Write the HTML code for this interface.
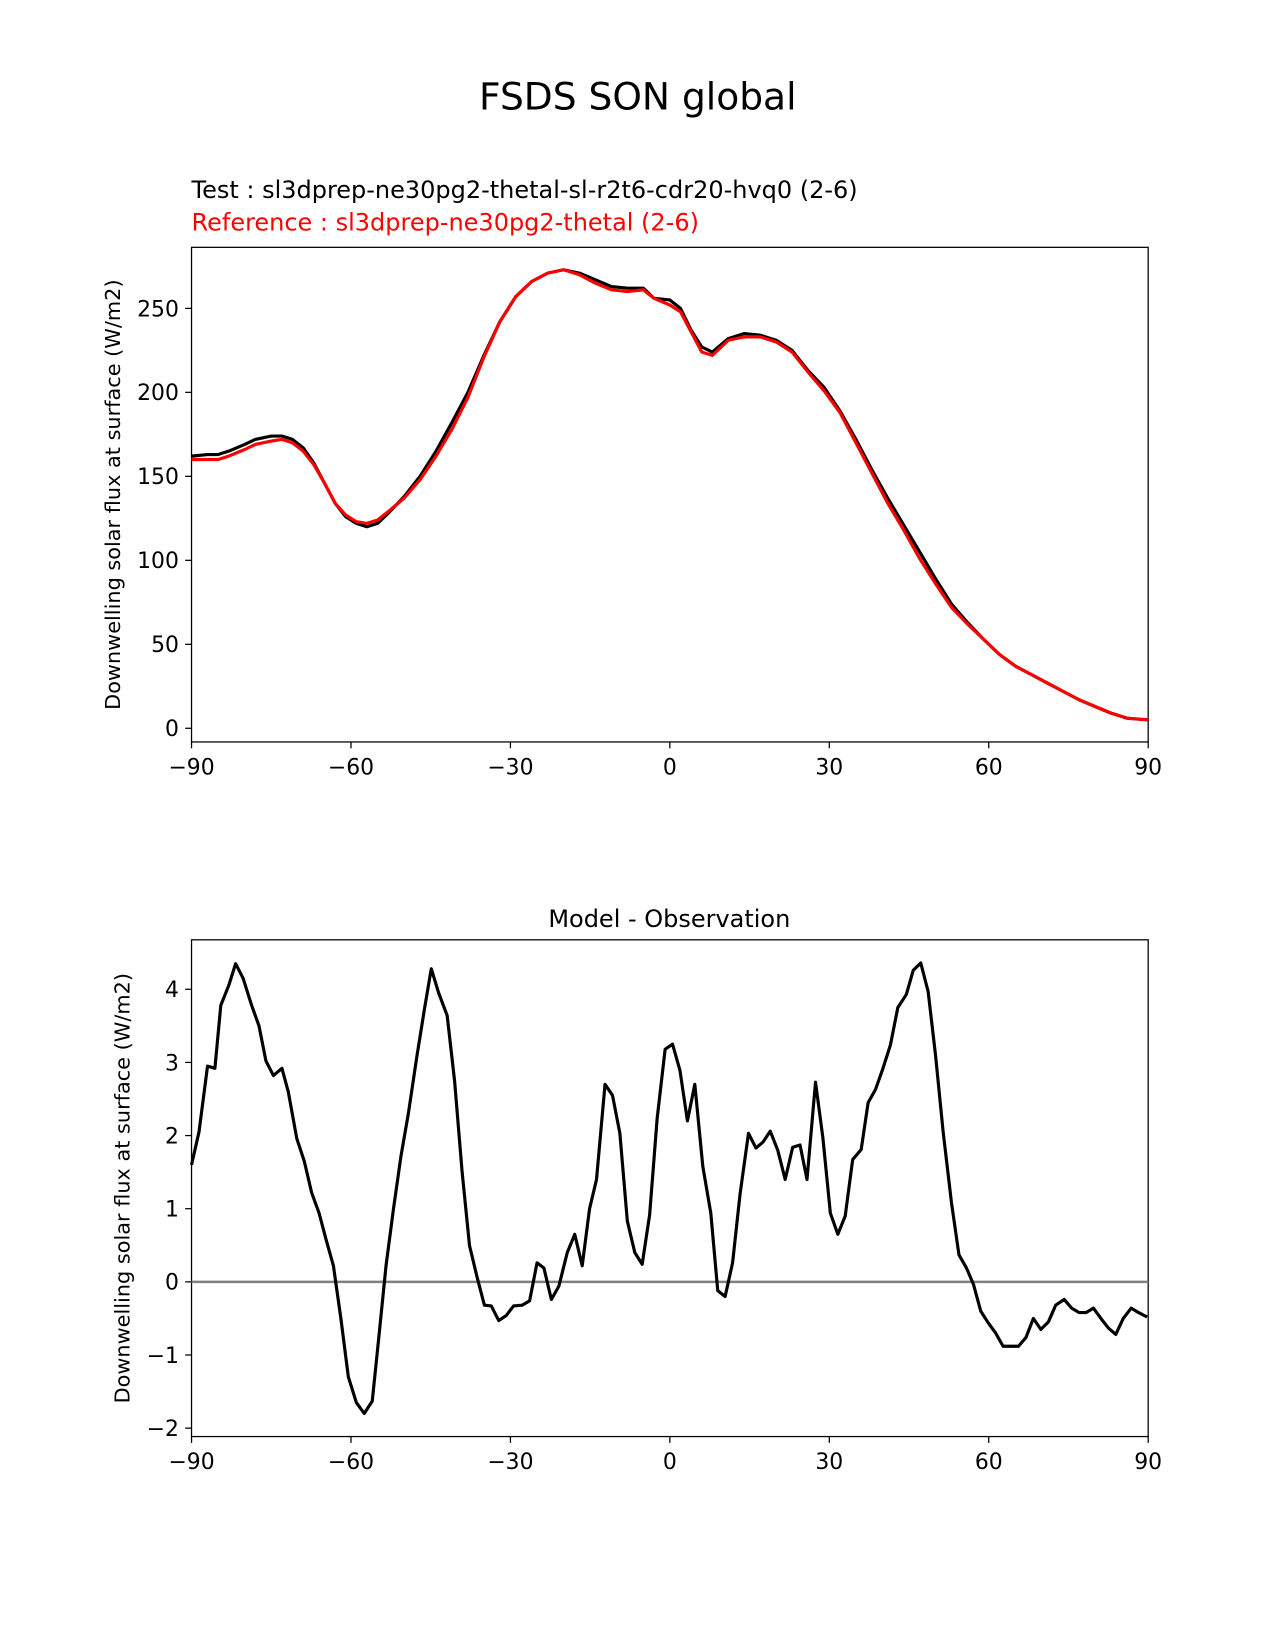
<!DOCTYPE html>
<html><head><meta charset="utf-8"><style>
html,body{margin:0;background:#fff;overflow:hidden;width:1275px;height:1650px}
svg{display:block}
svg text{font-family:"DejaVu Sans","Liberation Sans",sans-serif}
</style></head><body>
<svg id="s" width="1275" height="1650" viewBox="0 0 1211.5 1567.8">
<rect width="1211.5" height="1567.8" fill="#fff"/>
<text x="606" y="104" font-size="35.7" text-anchor="middle">FSDS SON global</text>
<text x="182" y="188" font-size="22.8">Test : sl3dprep-ne30pg2-thetal-sl-r2t6-cdr20-hvq0 (2-6)</text>
<text x="182" y="219" font-size="22.8" fill="#f00">Reference : sl3dprep-ne30pg2-thetal (2-6)</text>
<text x="636" y="881" font-size="22.8" text-anchor="middle">Model - Observation</text>
<g id="g"></g>
</svg>
<script>
const topLat=[-90,-87,-85,-83,-80,-78,-75,-73,-71,-69,-67,-65,-63,-61,-59,-57,-55,-53,-50,-47,-44,-41,-38,-35,-32,-29,-26,-23,-20,-17,-14,-11,-8,-5,-3,0,2,4,6,8,11,14,17,20,23,26,29,32,35,38,41,44,47,50,53,56,59,62,65,68,71,74,77,80,83,86,90];
const testVals=[162,163,163,165,169,172,174,174,172,167,158,146,134,126,122,120,122,128,138,150,165,182,200,222,242,257,266,271,273,271,267,263,262,262,256,255,250,237,227,224,232,235,234,231,225,213,203,189,172,154,137,121,105,89,74,63,53,44,37,32,27,22,17,13,9,6,5];
const refVals=[160,160,160,162,166,169,171,172,170,165,157,146,134,127,123,122,124,129,137,148,162,178,197,221,242,257,266,271,273,270,265,261,260,261,256,252,248,236,224,222,231,233,233,230,224,212,201,188,170,152,134,118,101,86,72,62,53,44,37,32,27,22,17,13,9,6,5];
const diffLat=[-90,-88.6,-87,-85.6,-84.5,-83,-81.7,-80.3,-78.7,-77.3,-76,-74.6,-73,-71.8,-70.2,-68.8,-67.4,-66,-64.7,-63.3,-61.9,-60.5,-59,-57.5,-56,-54.8,-53.4,-52,-50.6,-49.2,-47.6,-46.2,-44.9,-43.5,-41.9,-40.5,-39.1,-37.7,-36.3,-34.9,-33.6,-32.2,-30.8,-29.4,-27.8,-26.4,-25,-23.7,-22.3,-20.9,-19.3,-17.9,-16.5,-15.1,-13.8,-12.2,-10.8,-9.4,-8,-6.6,-5.2,-3.8,-2.4,-0.9,0.5,1.9,3.3,4.7,6.2,7.7,9,10.4,11.8,13.2,14.8,16.2,17.5,18.9,20.3,21.7,23.1,24.5,25.8,27.4,28.8,30.2,31.6,33,34.4,36,37.3,38.7,40.1,41.5,42.9,44.5,45.8,47.2,48.6,50,51.4,53,54.4,55.8,57.1,58.5,59.9,61.3,62.7,64.3,65.6,67,68.4,69.8,71.2,72.6,74.2,75.6,77,78.3,79.7,81.1,82.5,83.9,85.3,86.8,88.2,89.8];
const diffVals=[1.6,2.05,2.95,2.92,3.78,4.05,4.35,4.15,3.78,3.5,3.02,2.82,2.92,2.6,1.96,1.65,1.22,0.94,0.58,0.22,-0.5,-1.3,-1.65,-1.8,-1.63,-0.78,0.22,1.0,1.72,2.3,3.08,3.72,4.28,3.95,3.64,2.74,1.52,0.5,0.07,-0.32,-0.33,-0.53,-0.46,-0.33,-0.32,-0.26,0.26,0.19,-0.24,-0.06,0.4,0.65,0.22,1.0,1.4,2.7,2.55,2.03,0.83,0.4,0.24,0.92,2.23,3.18,3.25,2.89,2.2,2.7,1.58,0.94,-0.12,-0.2,0.26,1.2,2.03,1.83,1.91,2.06,1.8,1.4,1.84,1.87,1.4,2.73,1.97,0.94,0.65,0.9,1.67,1.81,2.45,2.63,2.92,3.24,3.75,3.93,4.26,4.36,3.97,3.09,2.06,1.08,0.37,0.19,-0.03,-0.4,-0.56,-0.7,-0.88,-0.88,-0.88,-0.76,-0.5,-0.65,-0.55,-0.32,-0.24,-0.36,-0.42,-0.42,-0.36,-0.5,-0.63,-0.72,-0.5,-0.36,-0.42,-0.48];
const xTicks=[-90,-60,-30,0,30,60,90];
const topYTicks=[0,50,100,150,200,250];
const botYTicks=[-2,-1,0,1,2,3,4];
const NS="http://www.w3.org/2000/svg",g=document.getElementById('g');
function el(t,a,txt){const e=document.createElementNS(NS,t);for(const k in a)e.setAttribute(k,a[k]);if(txt!==undefined)e.textContent=txt;g.appendChild(e);return e;}
const X=v=>182+(v+90)*909/180;
const Yt=v=>692-v*399/250;
const Yb=v=>1218-v*69.5;
function axes(top,bot,Y,yt,name,ylab,yc){
  let r=el('rect',{x:182,y:top,width:909,height:bot-top,fill:'none',stroke:'#000','stroke-width':1.2});
  
  xTicks.forEach(t=>{el('line',{x1:X(t),x2:X(t),y1:bot,y2:bot+6,stroke:'#000','stroke-width':1.2});
    let tx=el('text',{x:X(t),y:bot+31,'font-size':20.8,'text-anchor':'middle'},String(t).replace('-','\u2212'));
    });
  yt.forEach(t=>{el('line',{x1:176,x2:182,y1:Y(t),y2:Y(t),stroke:'#000','stroke-width':1.2});
    let tx=el('text',{x:170,y:Y(t)+7.5,'font-size':20.8,'text-anchor':'end'},String(t).replace('-','\u2212'));
    });
  let yl=el('text',{x:0,y:0,'font-size':19.8,'text-anchor':'middle',transform:`translate(${ylab},${yc}) rotate(-90)`},'Downwelling solar flux at surface (W/m2)');
  
}
function line(xs,ys,Y,color,name){
  const d=xs.map((x,i)=>(i?'L':'M')+X(x).toFixed(1)+','+Y(ys[i]).toFixed(1)).join('');
  const p=el('path',{d:d,fill:'none',stroke:color,'stroke-width':3,'stroke-linejoin':'round'});
  
}
axes(235,705,Yt,topYTicks,'top-plot',114,470);
line(topLat,testVals,Yt,'#000','test-line');
line(topLat,refVals,Yt,'#f00','reference-line');
axes(893,1365,Yb,botYTicks,'diff-plot',123,1129);
const z=el('line',{x1:182,x2:1091,y1:Yb(0),y2:Yb(0),stroke:'#808080','stroke-width':2.4});

line(diffLat,diffVals,Yb,'#000','diff-line');
</script>
</body></html>
